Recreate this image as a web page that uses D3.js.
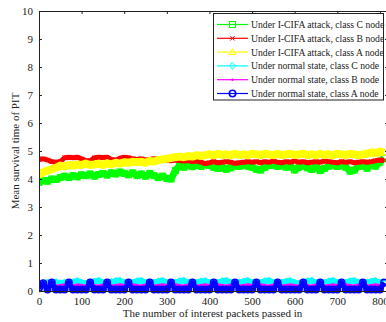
<!DOCTYPE html>
<html>
<head>
<meta charset="utf-8">
<script src="https://cdn.jsdelivr.net/npm/d3@7"></script>
<style>
  html, body { margin: 0; padding: 0; background: #fff; }
  svg { display: block; }
  text { font-family: "Liberation Serif", "DejaVu Serif", serif; fill: #222; }
</style>
</head>
<body>
<script>
// Sample positions: number of interest packets passed in (every 10 packets)
const packets = d3.range(0, 811, 10);

// Mean PIT survival time, one array per node class / state
const attackC = [3.88,3.95,3.92,4.0,3.98,4.05,4.1,4.05,4.12,4.08,4.15,4.12,4.18,4.1,4.16,4.2,4.14,4.22,4.18,4.25,
  4.2,4.15,4.22,4.12,4.18,4.1,4.2,4.12,4.05,4.1,4.02,4.0,4.3,4.48,4.42,4.5,4.44,4.5,4.45,4.52,
  4.48,4.42,4.38,4.4,4.35,4.4,4.48,4.45,4.5,4.46,4.42,4.35,4.32,4.42,4.48,4.5,4.45,4.48,4.42,4.46,
  4.32,4.42,4.48,4.4,4.34,4.44,4.3,4.38,4.46,4.5,4.45,4.48,4.42,4.28,4.32,4.45,4.48,4.38,4.5,4.46,
  4.6,4.75];
const attackB = [4.7,4.72,4.68,4.62,4.6,4.62,4.76,4.78,4.76,4.78,4.72,4.66,4.65,4.76,4.78,4.77,4.78,4.7,4.68,4.74,
  4.78,4.76,4.72,4.7,4.72,4.68,4.7,4.72,4.7,4.68,4.66,4.65,4.68,4.66,4.64,4.66,4.62,4.64,4.6,4.55,
  4.58,4.62,4.58,4.6,4.62,4.6,4.56,4.58,4.6,4.62,4.6,4.62,4.58,4.62,4.6,4.64,4.6,4.58,4.62,4.6,
  4.64,4.6,4.62,4.58,4.6,4.62,4.6,4.64,4.62,4.6,4.58,4.62,4.6,4.62,4.58,4.6,4.62,4.6,4.62,4.65,
  4.68,4.66];
const attackA = [4.15,4.25,4.3,4.35,4.4,4.48,4.45,4.5,4.48,4.52,4.5,4.55,4.5,4.52,4.55,4.5,4.56,4.52,4.58,4.55,
  4.6,4.58,4.62,4.6,4.62,4.58,4.65,4.62,4.68,4.7,4.72,4.75,4.78,4.8,4.78,4.82,4.8,4.85,4.82,4.85,
  4.88,4.85,4.9,4.86,4.88,4.85,4.9,4.86,4.88,4.85,4.9,4.88,4.86,4.9,4.88,4.85,4.9,4.86,4.88,4.9,
  4.86,4.88,4.9,4.86,4.88,4.85,4.9,4.86,4.88,4.85,4.9,4.88,4.86,4.9,4.88,4.85,4.88,4.9,4.95,4.92,
  4.98,4.95];
const normalC = [0.15,0.2,0.3,0.25,0.32,0.28,0.3,0.26,0.32,0.36,0.3,0.26,0.3,0.34,0.37,0.3,0.26,0.32,0.36,0.37,
  0.3,0.26,0.3,0.35,0.37,0.3,0.27,0.3,0.34,0.37,0.3,0.26,0.3,0.35,0.37,0.3,0.27,0.3,0.34,0.36,
  0.3,0.26,0.3,0.35,0.37,0.3,0.27,0.3,0.34,0.37,0.3,0.26,0.3,0.35,0.37,0.3,0.28,0.3,0.34,0.36,
  0.3,0.26,0.3,0.35,0.37,0.3,0.27,0.3,0.34,0.37,0.3,0.26,0.3,0.35,0.37,0.3,0.27,0.3,0.34,0.36,
  0.3,0.28];
const normalB = [0.1,0.15,0.18,0.2,0.18,0.2,0.22,0.2,0.18,0.22,0.2,0.18,0.22,0.2,0.18,0.22,0.2,0.18,0.2,0.22,
  0.2,0.18,0.22,0.2,0.18,0.22,0.2,0.18,0.2,0.22,0.2,0.18,0.22,0.2,0.18,0.22,0.2,0.18,0.2,0.22,
  0.2,0.18,0.22,0.2,0.18,0.22,0.2,0.18,0.2,0.22,0.2,0.18,0.22,0.2,0.18,0.22,0.2,0.18,0.2,0.22,
  0.2,0.18,0.22,0.2,0.18,0.22,0.2,0.18,0.2,0.22,0.2,0.18,0.22,0.2,0.18,0.22,0.2,0.18,0.2,0.22,
  0.2,0.2];
const normalA = [0.1,0.28,0.05,0.3,0.05,0.05,0.05,0.3,0.05,0.05,0.05,0.05,0.3,0.05,0.05,0.05,0.3,0.05,0.05,0.05,
  0.05,0.3,0.05,0.05,0.05,0.05,0.3,0.05,0.05,0.05,0.05,0.3,0.05,0.05,0.05,0.05,0.3,0.05,0.05,0.05,
  0.05,0.3,0.05,0.05,0.05,0.05,0.3,0.05,0.05,0.05,0.05,0.3,0.05,0.05,0.05,0.05,0.3,0.05,0.05,0.05,
  0.05,0.05,0.3,0.05,0.05,0.05,0.3,0.05,0.05,0.05,0.05,0.3,0.05,0.05,0.05,0.05,0.3,0.05,0.05,0.05,
  0.05,0.3];

const seriesNames = [
  "Under I-CIFA attack, class C node",
  "Under I-CIFA attack, class B node",
  "Under I-CIFA attack, class A node",
  "Under normal state, class C node",
  "Under normal state, class B node",
  "Under normal state, class A node"
];
const seriesValues = [attackC, attackB, attackA, normalC, normalB, normalA];
const seriesColors = ["#00ff00", "#ff0000", "#ffff00", "#00ffff", "#ff00ff", "#0000ff"];
const seriesMarkers = ["square", "cross", "triangle", "diamond", "point", "circle"];
// Dense sampling makes each trace read as a thick band
const seriesBandWidth = [7, 5, 8, 6, 3, 5];

const xTicks = d3.range(0, 801, 100);
const yTicks = d3.range(0, 11, 1);

const W = 386, H = 322;
const margin = { left: 39, top: 11, right: 388, bottom: 291 };

const svg = d3.select("body").append("svg").attr("width", W).attr("height", H);

const x = d3.scaleLinear().domain([0, 819]).range([margin.left, margin.right]);
const y = d3.scaleLinear().domain([0, 10]).range([margin.bottom, margin.top]);

svg.append("defs").append("clipPath").attr("id", "plotclip")
  .append("rect")
  .attr("x", margin.left).attr("y", margin.top - 4)
  .attr("width", margin.right - margin.left).attr("height", margin.bottom - margin.top + 8);

// Marker drawing for a given style
function drawMarker(g, kind, color, cx, cy) {
  const s = 3;
  if (kind === "square") {
    g.append("rect").attr("x", cx - s).attr("y", cy - s).attr("width", 2 * s).attr("height", 2 * s)
      .attr("fill", "none").attr("stroke", color).attr("stroke-width", 1);
  } else if (kind === "cross") {
    g.append("path").attr("d", `M${cx - 2.2},${cy - 2.2}L${cx + 2.2},${cy + 2.2}M${cx - 2.2},${cy + 2.2}L${cx + 2.2},${cy - 2.2}`)
      .attr("stroke", color).attr("stroke-width", 1).attr("fill", "none");
  } else if (kind === "triangle") {
    g.append("path").attr("d", `M${cx},${cy - 3.6}L${cx + 3.4},${cy + 2.4}L${cx - 3.4},${cy + 2.4}Z`)
      .attr("stroke", color).attr("stroke-width", 1).attr("fill", "none");
  } else if (kind === "diamond") {
    g.append("path").attr("d", `M${cx},${cy - 3.6}L${cx + 2.8},${cy}L${cx},${cy + 3.6}L${cx - 2.8},${cy}Z`)
      .attr("stroke", color).attr("stroke-width", 1).attr("fill", "none");
  } else if (kind === "point") {
    g.append("circle").attr("cx", cx).attr("cy", cy).attr("r", 1.2).attr("fill", color);
  } else if (kind === "circle") {
    g.append("circle").attr("cx", cx).attr("cy", cy).attr("r", 3.2)
      .attr("fill", "none").attr("stroke", color).attr("stroke-width", 1.6);
  }
}

// Series lines and markers
const plot = svg.append("g").attr("clip-path", "url(#plotclip)");
const line = d3.line().x((d, i) => x(packets[i])).y(d => y(d));
seriesValues.forEach((vals, k) => {
  const g = plot.append("g");
  g.append("path").datum(vals).attr("d", line)
    .attr("fill", "none").attr("stroke", seriesColors[k])
    .attr("stroke-linejoin", "round")
    .attr("stroke-width", seriesBandWidth[k]);
  vals.forEach((v, i) => drawMarker(g, seriesMarkers[k], seriesColors[k], x(packets[i]), y(v)));
});

// Axes frame with inward ticks on all sides
const axisColor = "#222";
const axes = svg.append("g");
axes.append("g").attr("transform", `translate(0,${margin.bottom})`)
  .call(d3.axisBottom(x).tickValues(xTicks).tickSizeInner(-3).tickSizeOuter(0).tickPadding(6).tickFormat(d3.format("d")));
axes.append("g").attr("transform", `translate(0,${margin.top})`)
  .call(d3.axisTop(x).tickValues(xTicks).tickSizeInner(-3).tickSizeOuter(0).tickFormat(""));
axes.append("g").attr("transform", `translate(${margin.left},0)`)
  .call(d3.axisLeft(y).tickValues(yTicks).tickSizeInner(-3).tickSizeOuter(0).tickPadding(6).tickFormat(d3.format("d")));
axes.append("g").attr("transform", `translate(${margin.right},0)`)
  .call(d3.axisRight(y).tickValues(yTicks).tickSizeInner(-3).tickSizeOuter(0).tickFormat(""));
axes.selectAll(".domain").attr("stroke", axisColor).attr("stroke-width", 1);
axes.selectAll(".tick line").attr("stroke", axisColor).attr("stroke-width", 1);
axes.selectAll(".tick text").style("font-family", "'Liberation Serif', serif").style("font-size", "11px").attr("fill", "#222");

// Axis titles
svg.append("text")
  .attr("x", (margin.left + margin.right) / 2 - 1).attr("y", 317)
  .attr("text-anchor", "middle").style("font-size", "11px")
  .text("The number of interest packets passed in");
svg.append("text")
  .attr("transform", `translate(19,${(margin.top + margin.bottom) / 2}) rotate(-90)`)
  .attr("text-anchor", "middle").style("font-size", "11px")
  .text("Mean survival time of PIT");

// Legend
const lg = svg.append("g");
lg.append("rect").attr("x", 213.5).attr("y", 13.5).attr("width", 170).attr("height", 86.5)
  .attr("fill", "#fff").attr("stroke", "#222").attr("stroke-width", 1);
seriesNames.forEach((name, k) => {
  const cy = 24.5 + k * 13.8;
  lg.append("line").attr("x1", 217).attr("x2", 248).attr("y1", cy).attr("y2", cy)
    .attr("stroke", seriesColors[k]).attr("stroke-width", 1.2);
  drawMarker(lg, seriesMarkers[k], seriesColors[k], 232.5, cy);
  lg.append("text").attr("x", 251).attr("y", cy + 3.4).style("font-size", "9.7px").text(name);
});
</script>
</body>
</html>
